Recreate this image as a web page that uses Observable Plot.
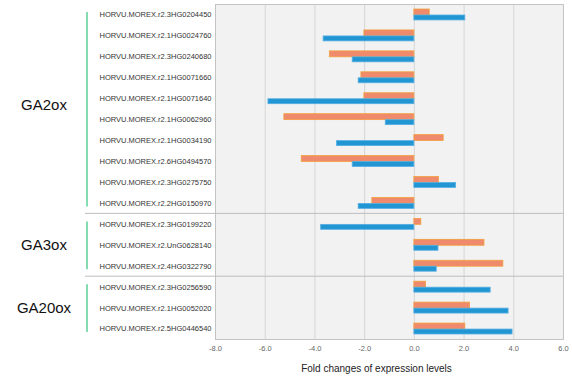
<!DOCTYPE html>
<html><head><meta charset="utf-8">
<script src="https://cdn.jsdelivr.net/npm/d3@7"></script>
<script src="https://cdn.jsdelivr.net/npm/@observablehq/plot@0.6"></script>
<style>body{margin:0;background:#fff;font-family:"Liberation Sans",Arial,sans-serif}</style>
</head><body><div id="chart"></div>
<script>
const genes = [
  "HORVU.MOREX.r2.3HG0204450","HORVU.MOREX.r2.1HG0024760","HORVU.MOREX.r2.3HG0240680",
  "HORVU.MOREX.r2.1HG0071660","HORVU.MOREX.r2.1HG0071640","HORVU.MOREX.r2.1HG0062960",
  "HORVU.MOREX.r2.1HG0034190","HORVU.MOREX.r2.6HG0494570","HORVU.MOREX.r2.3HG0275750",
  "HORVU.MOREX.r2.2HG0150970","HORVU.MOREX.r2.3HG0199220","HORVU.MOREX.r2.UnG0628140",
  "HORVU.MOREX.r2.4HG0322790","HORVU.MOREX.r2.3HG0256590","HORVU.MOREX.r2.1HG0052020",
  "HORVU.MOREX.r2.5HG0446540"
];
const seriesOrange = [0.62,-2.01,-3.40,-2.13,-2.01,-5.23,1.18,-4.53,0.99,-1.69,0.28,2.82,3.58,0.47,2.24,2.05];
const seriesBlue   = [2.05,-3.65,-2.48,-2.24,-5.87,-1.15,-3.11,-2.48,1.68,-2.24,-3.75,0.97,0.90,3.07,3.79,3.95];
const groupNames = ["GA2ox","GA3ox","GA20ox"];
const groupFirst = [0,10,13];
const groupLast  = [9,12,15];
const xTicks = [-8,-6,-4,-2,0,2,4,6];
const xLabel = "Fold changes of expression levels";

const rowsO = genes.map((g,i)=>({gene:g, value:seriesOrange[i]}));
const rowsB = genes.map((g,i)=>({gene:g, value:seriesBlue[i]}));

const W = 572, H = 378, ML = 215, MR = 9, MT = 4, MB = 39;
const plot = Plot.plot({
  width: W, height: H, marginLeft: ML, marginRight: MR, marginTop: MT, marginBottom: MB,
  style: {fontFamily: '"Liberation Sans", Arial, sans-serif', background: "transparent"},
  x: {domain: [-8, 6]},
  y: {domain: genes, padding: 0, round: false},
  marks: [
    Plot.frame({fill: "#f2f2f2", stroke: "none"}),
    Plot.ruleX(xTicks, {stroke: "#d6d6d6", strokeWidth: 1}),
    Plot.barX(rowsO, {x: "value", y: "gene", fill: "#ef8a6c", stroke: "#f2a03c", strokeWidth: 0.8, insetTop: 5, insetBottom: 10}),
    Plot.barX(rowsB, {x: "value", y: "gene", fill: "#2196d3", stroke: "#55aee3", strokeWidth: 0.8, insetTop: 11, insetBottom: 5}),
    Plot.frame({stroke: "#c4c4c4"}),
    Plot.axisX({ticks: xTicks, tickFormat: d => d.toFixed(1), tickSize: 0, tickPadding: 6, fontSize: 7.5, color: "#666", label: null}),
    Plot.axisY({tickSize: 0, tickPadding: 4, fontSize: 7.5, color: "#333", label: null}),
    Plot.text([xLabel], {frameAnchor: "bottom", lineAnchor: "middle", dy: 29, dx: -13, fontSize: 10, fill: "#222"})
  ]
});

// group annotations in the left margin, positioned with the plot's own y scale
const y = plot.scale("y");
const bw = y.bandwidth;
const svg = d3.select(plot);
const labelDy = [-4, 0, 0];
const g = svg.append("g");
groupNames.forEach((name, k) => {
  const top = y.apply(genes[groupFirst[k]]);
  const bot = y.apply(genes[groupLast[k]]) + bw;
  g.append("line").attr("x1", 87).attr("x2", 87)
    .attr("y1", top + 8).attr("y2", bot - 7)
    .attr("stroke", "#5fcf98").attr("stroke-width", 1.5);
  g.append("text").attr("x", 44).attr("y", (top + bot) / 2 + labelDy[k])
    .attr("text-anchor", "middle").attr("dominant-baseline", "central")
    .attr("font-size", 15).attr("fill", "#111").text(name);
  if (k > 0) {
    g.append("line").attr("x1", 85).attr("x2", W - MR)
      .attr("y1", top).attr("y2", top)
      .attr("stroke", "#bdbdbd").attr("stroke-width", 1);
  }
});
document.getElementById("chart").appendChild(plot);
</script>
</body></html>
